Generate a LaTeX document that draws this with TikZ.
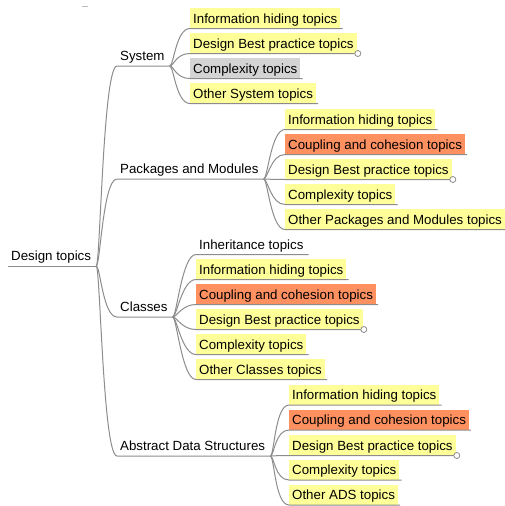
\documentclass[tikz,border=0pt]{standalone}
\usepackage{fontspec}
\setmainfont{Liberation Sans}
\definecolor{edgegray}{RGB}{140,140,140}
\definecolor{topicyellow}{RGB}{255,255,153}
\definecolor{topicorange}{RGB}{255,144,96}
\definecolor{topicgray}{RGB}{212,212,212}
\tikzset{
  topic/.style={anchor=south west, inner xsep=3pt, inner ysep=2pt, text height=13pt, text depth=3pt, font=\fontsize{13.3}{16}\selectfont},
  edge/.style={draw=edgegray, line width=1pt},
  fold/.style={circle, draw=edgegray, fill=white, inner sep=0pt, minimum size=6pt, line width=0.8pt},
}
\begin{document}
\begin{tikzpicture}[x=1pt, y=-1pt]
    \useasboundingbox (0,0) rectangle (504,506);
    \draw[edgegray!60, line width=0.8pt] (82,6) -- (88,6);

    % root
    \node[topic] (root) at (8,266) {Design topics};
    \draw[edge] (root.south west) -- ([xshift=2pt]root.south east);

    % main branches
    \foreach \n/\y/\t in {sys/66/System, pkg/179/Packages and Modules, cls/317/Classes, ads/456/Abstract Data Structures} {
        \node[topic] (\n) at (117,\y) {\t};
        \draw[edge] ([xshift=2pt]root.south east) .. controls +(4,0) and +(-14,0) .. (\n.south west) -- ([xshift=2pt]\n.south east);
    }

    % System
    \foreach \n/\y/\c/\t in {sysinfo/28.5/topicyellow/Information hiding topics, sysbest/53.5/topicyellow/Design Best practice topics, syscplx/78.5/topicgray/Complexity topics, sysother/103.5/topicyellow/Other System topics} {
        \node[topic, fill=\c] (\n) at (190,\y) {\t};
        \draw[edge] ([xshift=2pt]sys.south east) .. controls +(4,0) and +(-14,0) .. (\n.south west) -- ([xshift=2pt]\n.south east);
    }

    % Packages and Modules
    \foreach \n/\y/\c/\t in {pkginfo/129.5/topicyellow/Information hiding topics, pkgcoup/154.5/topicorange/Coupling and cohesion topics, pkgbest/179.5/topicyellow/Design Best practice topics, pkgcplx/204.5/topicyellow/Complexity topics, pkgother/229.5/topicyellow/Other Packages and Modules topics} {
        \node[topic, fill=\c] (\n) at (285,\y) {\t};
        \draw[edge] ([xshift=2pt]pkg.south east) .. controls +(4,0) and +(-14,0) .. (\n.south west) -- ([xshift=2pt]\n.south east);
    }

    % Classes
    \foreach \n/\y/\c/\t in {clsinh/254.5/none/Inheritance topics, clsinfo/279.5/topicyellow/Information hiding topics, clscoup/304.5/topicorange/Coupling and cohesion topics, clsbest/329.5/topicyellow/Design Best practice topics, clscplx/354.5/topicyellow/Complexity topics, clsother/379.5/topicyellow/Other Classes topics} {
        \node[topic, fill=\c] (\n) at (196,\y) {\t};
        \draw[edge] ([xshift=2pt]cls.south east) .. controls +(4,0) and +(-14,0) .. (\n.south west) -- ([xshift=2pt]\n.south east);
    }

    % Abstract Data Structures
    \foreach \n/\y/\c/\t in {adsinfo/405/topicyellow/Information hiding topics, adscoup/430/topicorange/Coupling and cohesion topics, adsbest/455.5/topicyellow/Design Best practice topics, adscplx/480/topicyellow/Complexity topics, adsother/505/topicyellow/Other ADS topics} {
        \node[topic, fill=\c] (\n) at (289,\y) {\t};
        \draw[edge] ([xshift=2pt]ads.south east) .. controls +(4,0) and +(-14,0) .. (\n.south west) -- ([xshift=2pt]\n.south east);
    }

    % folded markers
    \foreach \n in {sysbest, pkgbest, clsbest, adsbest}
        \node[fold] (\n fold) at ([xshift=1pt]\n.south east) {};
\end{tikzpicture}
\end{document}
